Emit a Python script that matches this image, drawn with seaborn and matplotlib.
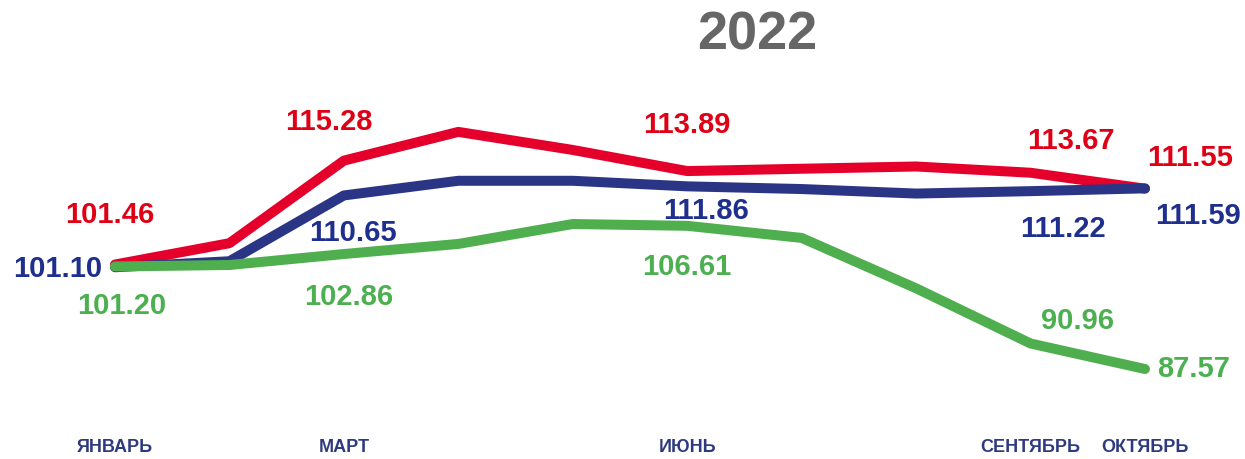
import pandas as pd
import seaborn as sns
import matplotlib.pyplot as plt
import matplotlib.transforms as mtransforms

# data (unlabelled months estimated)
months = ["ЯНВАРЬ", "ФЕВРАЛЬ", "МАРТ", "АПРЕЛЬ", "МАЙ", "ИЮНЬ",
          "ИЮЛЬ", "АВГУСТ", "СЕНТЯБРЬ", "ОКТЯБРЬ"]
red_vals = [101.46, 104.3, 115.28, 119.1, 116.7, 113.89, 114.2, 114.5, 113.67, 111.55]
navy_vals = [101.10, 101.9, 110.65, 112.6, 112.6, 111.86, 111.5, 110.9, 111.22, 111.59]
green_vals = [101.20, 101.4, 102.86, 104.2, 106.85, 106.61, 105.0, 98.3, 90.96, 87.57]
shown_months = ["ЯНВАРЬ", "МАРТ", "ИЮНЬ", "СЕНТЯБРЬ", "ОКТЯБРЬ"]

series = {"red": red_vals, "navy": navy_vals, "green": green_vals}
line_colors = {"red": "#E4002B", "navy": "#2B3585", "green": "#4FAF4F"}
text_colors = {"red": "#E00016", "navy": "#1E2F8E", "green": "#4CAF50"}

df = pd.DataFrame([{"idx": i, "month": m, "series": s, "value": v}
                   for s, vals in series.items()
                   for i, (m, v) in enumerate(zip(months, vals))])

sns.set_style("white")
plt.rcParams["font.family"] = ["Liberation Sans", "DejaVu Sans"]

fig = plt.figure(figsize=(12.45, 4.59), dpi=100)
ax = fig.add_axes([0, 0, 1, 1])
sns.lineplot(data=df, x="idx", y="value", hue="series", palette=line_colors,
             linewidth=7.2, legend=False, ax=ax, solid_capstyle="round",
             solid_joinstyle="round")
# draw order: green over navy over red at January
for ln, z in zip(ax.lines, [2, 3, 4]):
    ln.set_zorder(z)

ax.set_xlim(-1.005, 9.874)
ax.set_ylim(75.6, 136.64)
ax.axis("off")

# value labels: (series, month index) -> pixel offset from the point
label_offsets = {
    ("red", 0): (-5, 50), ("navy", 0): (-57, -2), ("green", 0): (7, -40),
    ("red", 2): (-15, 39), ("navy", 2): (9, -38), ("green", 2): (5, -43),
    ("red", 5): (0, 46), ("navy", 5): (19, -25), ("green", 5): (0, -41),
    ("red", 8): (40, 32), ("navy", 8): (32, -38), ("green", 8): (47, 22),
    ("red", 9): (45, 31), ("navy", 9): (53, -28), ("green", 9): (49, 0),
}
for (s, i), (dx, dy) in label_offsets.items():
    v = series[s][i]
    ax.annotate(f"{v:.2f}", (i, v), xytext=(dx, dy), textcoords="offset pixels",
                ha="center", va="center", fontsize=21, fontweight="bold",
                color=text_colors[s])

# month labels along the bottom
trans = mtransforms.blended_transform_factory(ax.transData, fig.transFigure)
for m in shown_months:
    ax.text(months.index(m), 1 - 447 / 459, m, transform=trans, ha="center",
            va="center", fontsize=13, fontweight="bold", color="#2E3A80")

fig.text(757 / 1245, 1 - 35 / 459, "2022", ha="center", va="center",
         fontsize=39, fontweight="bold", color="#666666")

plt.savefig("out.png", dpi=100)
